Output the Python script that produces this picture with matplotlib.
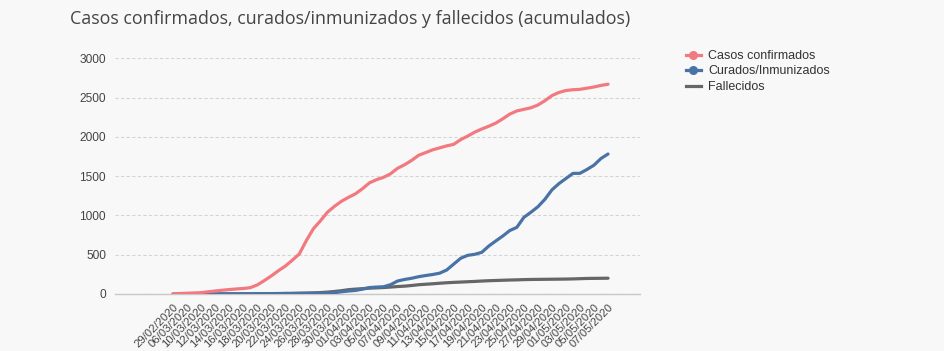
import matplotlib
matplotlib.use("Agg")
import matplotlib.pyplot as plt
from matplotlib.lines import Line2D

# Dates shown on the axis (every other category is labelled)
dates = ["29/02/2020", "04/03/2020", "06/03/2020", "08/03/2020"] + \
    [f"{d:02d}/03/2020" for d in range(10, 32)] + \
    [f"{d:02d}/04/2020" for d in range(1, 31)] + \
    [f"{d:02d}/05/2020" for d in range(1, 8)]

casos = [1, 6, 10, 13, 17, 28, 38, 48, 56, 64,
         70, 80, 115, 170, 230, 295, 355, 430, 510, 680,
         830, 930, 1040, 1115, 1180, 1230, 1275, 1340, 1415, 1455,
         1485, 1530, 1600, 1645, 1700, 1765, 1800, 1835, 1860, 1885,
         1905, 1965, 2010, 2060, 2100, 2135, 2175, 2230, 2290, 2330,
         2350, 2370, 2405, 2460, 2525, 2565, 2590, 2600, 2605, 2620,
         2635, 2655, 2670]

curados = [None, None, None, None, 0, 0, 1, 1, 2, 2,
           3, 3, 3, 4, 4, 5, 5, 5, 6, 6,
           7, 8, 12, 17, 28, 38, 45, 62, 82, 88,
           92, 118, 165, 185, 200, 220, 235, 248, 265, 305,
           380, 455, 492, 505, 530, 610, 675, 738, 808, 848,
           975, 1040, 1110, 1205, 1325, 1405, 1470, 1535, 1536, 1585,
           1640, 1725, 1782]

fallecidos = [0, 0, 0, 0, 0, 0, 0, 1, 1, 1,
              2, 2, 3, 4, 5, 6, 8, 9, 11, 13,
              15, 18, 24, 32, 42, 55, 62, 68, 74, 78,
              82, 88, 95, 100, 108, 118, 124, 130, 137, 143,
              148, 152, 156, 160, 165, 169, 172, 175, 178, 180,
              183, 185, 186, 187, 188, 189, 190, 192, 195, 198,
              199, 200, 201]

c_casos = "#f2797f"
c_curados = "#4a73a5"
c_fall = "#666666"
bg = "#f8f8f8"

plt.rcParams["font.family"] = ["Liberation Sans", "DejaVu Sans"]

fig = plt.figure(figsize=(9.44, 3.51), dpi=100, facecolor=bg)
ax = fig.add_axes([0.1218, 0.1624, 0.5562, 0.6715], facecolor=bg)

x = list(range(len(dates)))
cx = [i for i, v in zip(x, curados) if v is not None]
cv = [v for v in curados if v is not None]

ax.plot(x, fallecidos, color=c_fall, lw=2.3, solid_capstyle="round", zorder=3)
ax.plot(cx, cv, color=c_curados, lw=2.3, solid_capstyle="round", zorder=4)
ax.plot(x, casos, color=c_casos, lw=2.3, solid_capstyle="round", zorder=5)

ax.set_xlim(-8.27, 66.56)
ax.set_ylim(0, 3000)
ax.set_yticks(range(0, 3001, 500))
ax.yaxis.grid(True, color="#d4d4d4", linestyle=(0, (3, 2)), lw=0.8)
ax.set_axisbelow(True)

for s in ["top", "right", "left"]:
    ax.spines[s].set_visible(False)
ax.spines["bottom"].set_color("#c8c8c8")
ax.spines["bottom"].set_linewidth(1.0)

ax.set_xticks(x[::2])
ax.set_xticklabels(dates[::2], rotation=45, ha="right", va="top",
                   rotation_mode="anchor", fontsize=8.1, color="#444444")
ax.tick_params(axis="x", length=0, pad=6)
ax.tick_params(axis="y", length=0, pad=6.5, labelsize=8.6, labelcolor="#444444")

fig.text(0.074, 0.945, "Casos confirmados, curados/inmunizados y fallecidos (acumulados)",
         fontsize=12.9, color="#444444", va="center", ha="left", family=["Open Sans", "DejaVu Sans"])

handles = [
    Line2D([], [], color=c_casos, lw=2.3, marker="o", markersize=5.5),
    Line2D([], [], color=c_curados, lw=2.3, marker="o", markersize=5.5),
    Line2D([], [], color=c_fall, lw=2.3),
]
labels = ["Casos confirmados", "Curados/Inmunizados", "Fallecidos"]
leg = fig.legend(handles, labels, loc="upper left", bbox_to_anchor=(0.721, 0.872),
                 frameon=False, fontsize=9.0, handlelength=1.25, handletextpad=0.55,
                 labelspacing=0.28, borderaxespad=0)
for t in leg.get_texts():
    t.set_color("#333333")

fig.savefig("out.png", dpi=100, facecolor=bg)
